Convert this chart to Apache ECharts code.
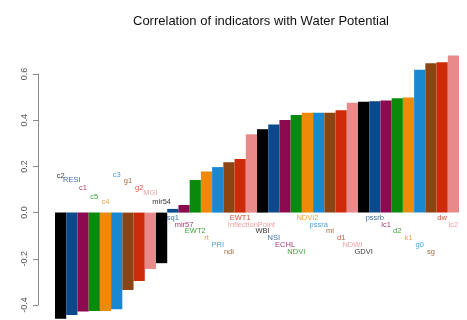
<!DOCTYPE html>
<html>
<head>
<meta charset="utf-8">
<script src="https://cdn.jsdelivr.net/npm/echarts@6/dist/echarts.min.js"></script>
<style>
html,body{margin:0;padding:0;background:#fff;}
#c{width:467px;height:320px;}
</style>
</head>
<body>
<div id="c"></div>
<script>
var categories = ["c2","RESI","c1","c5","c4","c3","g1","g2","MGI","mir54",
  "sq1","mir57","EWT2","rt","PRI","ndi","EWT1","InflectionPoint","WBI","NSI",
  "ECHL","NDVI","NDVI2","pssra","mi","d1","NDWI","GDVI","pssrb","lc1",
  "d2","k1","g0","sg","dw","lc2"];
var correlation = [-0.46,-0.443,-0.428,-0.426,-0.426,-0.418,-0.335,-0.296,-0.244,-0.219,
  0.016,0.033,0.141,0.178,0.197,0.218,0.232,0.339,0.361,0.381,
  0.401,0.423,0.432,0.432,0.432,0.443,0.476,0.480,0.482,0.485,
  0.495,0.498,0.618,0.647,0.651,0.680];
var labelY = [0.159,0.141,0.106,0.068,0.047,0.165,0.136,0.105,0.083,0.044,
  -0.024,-0.052,-0.080,-0.110,-0.141,-0.171,
  -0.024,-0.052,-0.080,-0.110,-0.141,-0.171,
  -0.024,-0.052,-0.080,-0.110,-0.141,-0.171,
  -0.024,-0.052,-0.080,-0.110,-0.141,-0.171,
  -0.024,-0.052];
var yTicks = [-0.4,-0.2,0.0,0.2,0.4,0.6];
var palette = ["#000000","#0a4a8c","#8b0a50","#0a8a0a","#ee8a0a","#1a88d0","#8b4513","#cc2a08","#e88a8a"];

var chart = echarts.init(document.getElementById('c'), null, {renderer:'canvas'});
var barData = correlation.map(function(v,i){
  return {value:v, itemStyle:{color:palette[i % palette.length]}};
});
var labelData = labelY.map(function(v,i){
  return {name:categories[i], value:[i, v], label:{color:palette[i % palette.length]}};
});
chart.setOption({
  animation:false,
  backgroundColor:'#ffffff',
  title:{
    text:'Correlation of indicators with Water Potential',
    left:256, top:10, textAlign:'center',
    textStyle:{fontFamily:'Liberation Sans', fontSize:13, fontWeight:'normal', color:'#111'}
  },
  grid:{left:55, right:8, top:74, bottom:15},
  xAxis:{
    type:'category', data:categories, boundaryGap:true,
    axisLine:{show:false}, axisTick:{show:false}, axisLabel:{show:false}, splitLine:{show:false}
  },
  yAxis:{
    type:'value', min:-0.4, max:0.6, interval:0.2, offset:17,
    axisLine:{show:true, lineStyle:{color:'#888', width:1}},
    axisTick:{show:true, length:5, lineStyle:{color:'#888'}},
    splitLine:{show:false},
    axisLabel:{rotate:90, margin:9, color:'#555', fontFamily:'Liberation Sans', fontSize:9,
      formatter:function(v){ return v.toFixed(1); }}
  },
  series:[
    {type:'bar', data:barData, barWidth:'100%', barCategoryGap:0, clip:false},
    {type:'scatter', data:labelData, symbolSize:0.1, itemStyle:{color:'rgba(0,0,0,0)'},
      label:{show:true, position:'inside', formatter:'{b}', fontFamily:'Liberation Sans', fontSize:7.5},
      z:5}
  ]
});
</script>
</body>
</html>
